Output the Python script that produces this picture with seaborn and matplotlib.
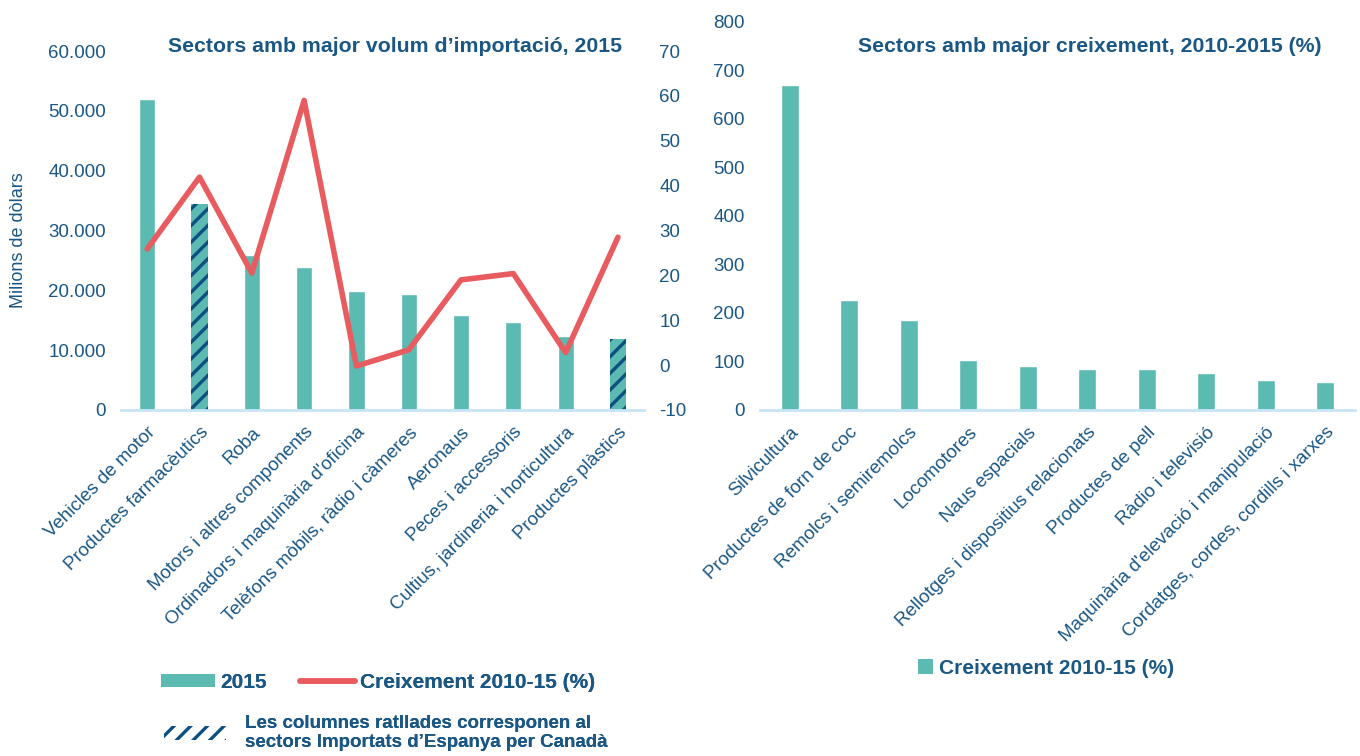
"""Sectors amb major volum d'importació i major creixement, 2010-2015."""

import numpy as np
import matplotlib
matplotlib.use("Agg")
import matplotlib.pyplot as plt
from matplotlib.patches import Patch
from matplotlib.lines import Line2D
import seaborn as sns

# left chart data
import_sectors = [
    "Vehicles de motor", "Productes farmacèutics", "Roba",
    "Motors i altres components", "Ordinadors i maquinària d'oficina",
    "Telèfons mòbils, ràdio i càmeres", "Aeronaus", "Peces i accessoris",
    "Cultius, jardineria i horticultura", "Productes plàstics",
]
import_2015 = [52000, 34400, 25900, 23850, 19900, 19330, 15870, 14700, 12300, 11900]
import_growth = [25.9, 41.9, 20.5, 59.0, -0.2, 3.4, 19.0, 20.4, 2.8, 28.5]
hatched = ["Productes farmacèutics", "Productes plàstics"]

# right chart data
growth_sectors = [
    "Silvicultura", "Productes de forn de coc", "Remolcs i semiremolcs",
    "Locomotores", "Naus espacials", "Rellotges i dispositius relacionats",
    "Productes de pell", "Ràdio i televisió",
    "Maquinària d'elevació i manipulació", "Cordatges, cordes, cordills i xarxes",
]
growth_pct = [671, 227, 186, 103, 91, 85, 85, 76, 62, 58]

TEAL = "#5bbab1"
RED = "#e85c60"
NAVY = "#0d4f80"
TEXT = "#1a5785"
BASE = "#c6e5f8"

sns.set_theme(style="white")
plt.rcParams["font.family"] = ["Liberation Sans", "DejaVu Sans"]
plt.rcParams["hatch.linewidth"] = 2.4
plt.rcParams["text.color"] = TEXT
plt.rcParams["axes.unicode_minus"] = False

fig = plt.figure(figsize=(13.6, 7.56), dpi=100)
ax = fig.add_axes([0.089, 0.4577, 0.3846, 0.4748])
ax_r = fig.add_axes([0.5588, 0.4577, 0.4375, 0.5132])


def style_axis(a, labels):
    for side in ["top", "left", "right"]:
        a.spines[side].set_visible(False)
    a.spines["bottom"].set_color(BASE)
    a.spines["bottom"].set_linewidth(2)
    a.set_xlabel("")
    a.set_ylabel("")
    a.set_xticks(range(len(labels)))
    a.set_xticklabels(labels, rotation=45, ha="right", va="top",
                      rotation_mode="anchor")
    a.tick_params(axis="both", length=0, labelsize=13.5, labelcolor=TEXT)
    a.tick_params(axis="x", pad=10)
    a.tick_params(axis="y", pad=11)
    a.set_xlim(-0.5, len(labels) - 0.5)


# left: import volume bars + growth line
sns.barplot(x=import_sectors, y=import_2015, order=import_sectors, ax=ax,
            color=TEAL, saturation=1, width=0.31)
for bar, name in zip(ax.containers[0], import_sectors):
    if name in hatched:
        bar.set_hatch("//")
        bar.set_edgecolor(NAVY)
        bar.set_linewidth(0)
ax.set_ylim(0, 60000)
ax.set_yticks(range(0, 60001, 10000))
ax.set_yticklabels([f"{v:,.0f}".replace(",", ".") for v in range(0, 60001, 10000)])
style_axis(ax, import_sectors)

ax2 = ax.twinx()
sns.lineplot(x=np.arange(len(import_sectors)), y=import_growth, ax=ax2,
             color=RED, linewidth=4, sort=False)
ax2.set_ylim(-10, 70)
ax2.set_yticks(range(-10, 71, 10))
for side in ["top", "left", "right", "bottom"]:
    ax2.spines[side].set_visible(False)
ax2.tick_params(axis="y", length=0, labelsize=13.5, labelcolor=TEXT, pad=11)
ax2.set_ylabel("")
ax.set_xlim(-0.5, len(import_sectors) - 0.5)

# right: growth bars
sns.barplot(x=growth_sectors, y=growth_pct, order=growth_sectors, ax=ax_r,
            color=TEAL, saturation=1, width=0.3)
ax_r.set_ylim(0, 800)
ax_r.set_yticks(range(0, 801, 100))
style_axis(ax_r, growth_sectors)

# titles and labels
fig.text(395 / 1360, 1 - 46 / 756, "Sectors amb major volum d\u2019importació, 2015",
         ha="center", va="center", fontsize=15.3, fontweight="bold", color=TEXT)
fig.text(1090 / 1360, 1 - 46 / 756, "Sectors amb major creixement, 2010-2015 (%)",
         ha="center", va="center", fontsize=15.3, fontweight="bold", color=TEXT)
fig.text(19 / 1360, 1 - 240 / 756, "Milions de dòlars", rotation=90,
         ha="center", va="center", fontsize=13, color=TEXT)

# legends
leg1 = fig.legend(
    handles=[Patch(facecolor=TEAL, edgecolor="none"),
             Line2D([0], [0], color=RED, lw=4, solid_capstyle="round")],
    labels=["2015", "Creixement 2010-15 (%)"],
    loc="center", bbox_to_anchor=(378 / 1360, 1 - 682 / 756), ncol=2,
    frameon=False, prop={"size": 15, "weight": "bold"}, labelcolor=TEXT,
    handlelength=2.6, handleheight=0.6, handletextpad=0.25, columnspacing=1.6,
)
fig.add_artist(leg1)
leg2 = fig.legend(
    handles=[Patch(facecolor="white", edgecolor=NAVY, hatch="//", lw=0)],
    labels=["Les columnes ratllades corresponen al\nsectors Importats d\u2019Espanya per Canadà"],
    loc="center", bbox_to_anchor=(386 / 1360, 1 - 733 / 756),
    frameon=False, prop={"size": 13.5, "weight": "bold"}, labelcolor=TEXT,
    handlelength=3.3, handleheight=0.8, handletextpad=1.0,
)
fig.add_artist(leg2)
fig.legend(
    handles=[Patch(facecolor=TEAL, edgecolor="none")],
    labels=["Creixement 2010-15 (%)"],
    loc="center", bbox_to_anchor=(1046 / 1360, 1 - 668 / 756),
    frameon=False, prop={"size": 15, "weight": "bold"}, labelcolor=TEXT,
    handlelength=0.7, handleheight=0.7, handletextpad=0.3,
)

fig.savefig("out.png", dpi=100, facecolor="white")
plt.close(fig)
